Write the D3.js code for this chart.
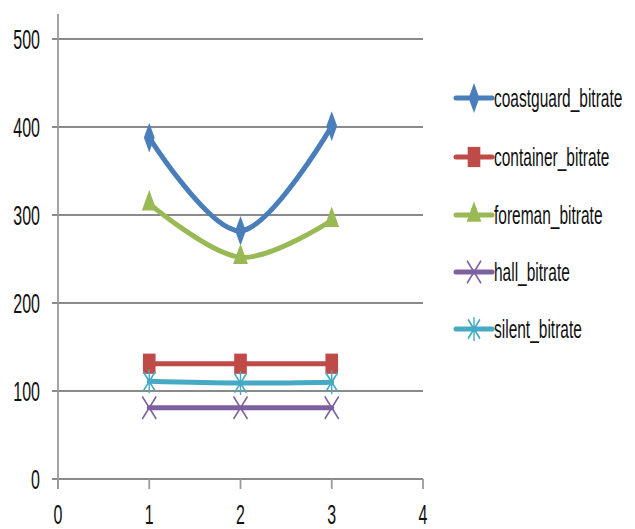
<!DOCTYPE html>
<html><head><meta charset="utf-8">
<script src="https://cdn.jsdelivr.net/npm/d3@7"></script>
<style>body{margin:0;background:#fff}svg{display:block}</style>
</head><body>
<svg id="c" width="635" height="529"></svg>
<script>
const xValues = [1, 2, 3];
const xTicks = [0, 1, 2, 3, 4];
const yTicks = [0, 100, 200, 300, 400, 500];
const seriesNames = ["coastguard_bitrate", "container_bitrate", "foreman_bitrate", "hall_bitrate", "silent_bitrate"];
const coastguard = [388, 282, 401];
const container = [131, 131, 131];
const foreman = [313, 252, 294];
const hall = [81, 81, 81];
const silent = [111, 109, 110];
const colors = ["#4A7EBB", "#BE4B48", "#98B954", "#7D60A0", "#46AAC5"];
const markers = ["diamond", "square", "triangle", "x", "star"];

const svg = d3.select("#c");
const x = d3.scaleLinear().domain([0, 4]).range([58, 423]);
const y = d3.scaleLinear().domain([0, 500]).range([479, 39]);
const SY = 1.7;
const FONT = "Liberation Sans, Arial, sans-serif";

// gridlines
svg.append("g").selectAll("line").data(yTicks).join("line")
  .attr("x1", 52).attr("x2", x(4)).attr("y1", d => y(d)).attr("y2", d => y(d))
  .attr("stroke", "#8a8a8a").attr("stroke-width", 1.8);
// y axis line
svg.append("line").attr("x1", x(0)).attr("x2", x(0)).attr("y1", 14).attr("y2", y(0) + 10)
  .attr("stroke", "#9a9a9a").attr("stroke-width", 1.8);
// x ticks
svg.append("g").selectAll("line").data(xTicks).join("line")
  .attr("x1", d => x(d)).attr("x2", d => x(d)).attr("y1", y(0)).attr("y2", y(0) + 10)
  .attr("stroke", "#9a9a9a").attr("stroke-width", 1.8);
// y labels
svg.append("g").selectAll("text").data(yTicks).join("text")
  .attr("transform", d => `translate(40,${y(d)}) scale(1,${SY})`)
  .attr("text-anchor", "end").attr("dy", "0.35em")
  .attr("font-family", FONT).attr("font-size", 16).attr("fill", "#111")
  .text(d => d);
// x labels
svg.append("g").selectAll("text").data(xTicks).join("text")
  .attr("transform", d => `translate(${x(d)},514) scale(1,${SY})`)
  .attr("text-anchor", "middle").attr("dy", "0.35em")
  .attr("font-family", FONT).attr("font-size", 16).attr("fill", "#111")
  .text(d => d);

function drawMarker(g, type, color, cx, cy) {
  const m = g.append("g").attr("transform", `translate(${cx},${cy}) scale(1,1.6)`);
  if (type === "diamond") {
    m.append("path").attr("d", d3.symbol(d3.symbolDiamond, 100)()).attr("fill", color);
  } else if (type === "square") {
    m.append("path").attr("d", d3.symbol(d3.symbolSquare, 160)()).attr("fill", color);
  } else if (type === "triangle") {
    m.append("path").attr("d", d3.symbol(d3.symbolTriangle, 95)()).attr("fill", color);
  } else if (type === "x") {
    m.append("path").attr("d", "M-7,-7L7,7M-7,7L7,-7").attr("stroke", color).attr("stroke-width", 1.4).attr("fill", "none");
  } else if (type === "star") {
    m.append("path").attr("d", "M-6,-6L6,6M-6,6L6,-6M0,-7.5L0,7.5").attr("stroke", color).attr("stroke-width", 1.4).attr("fill", "none");
  }
}

const allSeries = [coastguard, container, foreman, hall, silent];
const line = d3.line().x((d, i) => x(xValues[i])).y(d => y(d)).curve(d3.curveCatmullRom.alpha(0));
const plot = svg.append("g");
allSeries.forEach((vals, si) => {
  plot.append("path").datum(vals).attr("d", line)
    .attr("fill", "none").attr("stroke", colors[si]).attr("stroke-width", 5)
    .attr("stroke-linejoin", "round").attr("stroke-linecap", "round");
});
allSeries.forEach((vals, si) => {
  vals.forEach((v, i) => drawMarker(plot, markers[si], colors[si], x(xValues[i]), y(v)));
});

// legend
const legendY = [98, 157, 215, 272, 329];
const lg = svg.append("g");
seriesNames.forEach((name, si) => {
  const cy = legendY[si];
  lg.append("line").attr("x1", 456).attr("x2", 492).attr("y1", cy).attr("y2", cy)
    .attr("stroke", colors[si]).attr("stroke-width", 5).attr("stroke-linecap", "round");
  drawMarker(lg, markers[si], colors[si], 474, cy);
  lg.append("text").attr("transform", `translate(494,${cy}) scale(1,${SY})`)
    .attr("dy", "0.35em").attr("font-family", FONT).attr("font-size", 15.5).attr("fill", "#111")
    .text(name);
});
</script>
</body></html>
